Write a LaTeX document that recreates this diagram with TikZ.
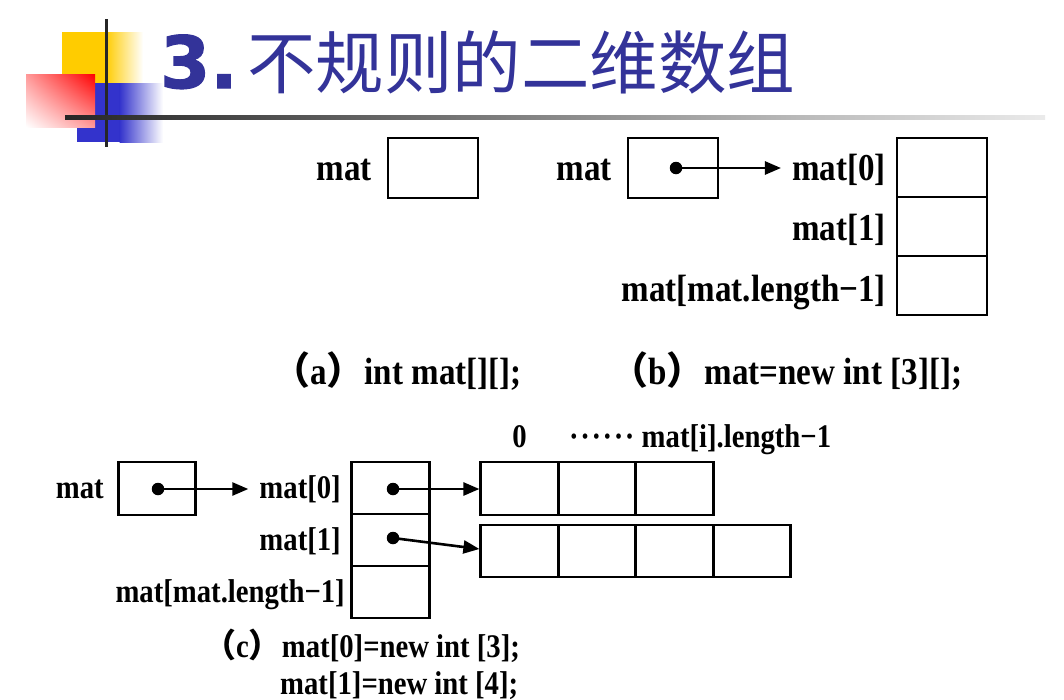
\documentclass[tikz,border=0pt]{standalone}
\usepackage{fontspec}
\setmainfont{Liberation Serif}
\newfontfamily\cjk{Noto Sans CJK SC}
\newfontfamily\lab{Liberation Serif}[FakeStretch=0.87]
\newfontfamily\titlenum{DejaVu Sans}[BoldFeatures={FakeBold=1.5}]
\usetikzlibrary{arrows.meta,shadings}
\definecolor{titleblue}{RGB}{51,51,153}
\definecolor{logoyellow}{RGB}{255,204,0}
\definecolor{logoblue}{RGB}{51,51,204}
\newcommand{\sixdots}{·\kern1.6pt·\kern1.6pt·\kern1.6pt·\kern1.6pt·\kern1.6pt·}
\begin{document}
\begin{tikzpicture}[x=1pt,y=-1pt,
  cell/.style={draw, line width=2.7pt, inner sep=0pt, minimum width=90pt, minimum height=59pt},
  cellc/.style={draw, line width=2.7pt, inner sep=0pt, minimum width=77.5pt, minimum height=52pt},
  lbl/.style={inner sep=0pt, font=\lab\bfseries\fontsize{38}{42}\selectfont},
  lblc/.style={inner sep=0pt, font=\lab\bfseries\fontsize{33}{37}\selectfont},
  dotn/.style={circle, fill, inner sep=0pt, minimum size=12.5pt},
  ptr/.style={line width=2.6pt, -{Triangle[length=16pt,width=13pt]}},
  ttl/.style={anchor=base west, inner sep=0pt, text=titleblue}
]
\useasboundingbox (0,0) rectangle (1064,699);
\fill[white] (0,0) rectangle (1064,699);

% logo
\fill[logoyellow] (62,32) rectangle (106,83);
\shade[left color=logoyellow, right color=white] (105.5,32) rectangle (143,83);
\fill[logoblue] (77,83) rectangle (120,142);
\shade[left color=logoblue, right color=white] (119.5,83) rectangle (163,142);
\shade[upper right=red, upper left=red!40, lower right=red!40, lower left=white] (26,74) rectangle (95,127);
\draw[line width=3pt, black!85] (106,19) -- (106,147);
\shade[left color=black!85, middle color=black!50, right color=black!8] (65,115) rectangle (1045,119);

% title
\node[ttl, font=\titlenum\bfseries\fontsize{72}{80}\selectfont] (tnum) at (160,88) {3.};
\node[ttl, font=\cjk\fontsize{68.5}{72}\selectfont] (ttext) at (247,88) {不规则的二维数组};

% (a)
\node[lbl, anchor=base east] (amat) at (372,180) {mat};
\node[cell, minimum height=60pt] (abox) at (433,168) {};

% (b)
\node[lbl, anchor=base east] (bmat) at (612,180) {mat};
\node[cell, minimum height=60pt] (bbox) at (673,168) {};
\node[dotn] (bdot) at (676,168) {};
\node[cell] (bc0) at (942,167.5) {};
\node[cell] (bc1) at (942,226.5) {};
\node[cell] (bc2) at (942,285.5) {};
\node[lbl, anchor=base east] (b0lbl) at (886,180) {mat[0]};
\node[lbl, anchor=base east] (b1lbl) at (886,240) {mat[1]};
\node[lbl, anchor=base east] (b2lbl) at (886,301) {mat[mat.length−1]};
\draw[ptr, shorten >=11pt] (bdot.center) -- (bdot.center -| b0lbl.west);

% captions a, b
\node[lbl, anchor=base west] (capa) at (272,384) {{\cjk （}a{\cjk ）}int mat[][];};
\node[lbl, anchor=base west] (capb) at (610,384) {{\cjk （}b{\cjk ）}mat=new int [3][];};

% (c)
\node[lblc] (h0) at (519.5,437) {0};
\node[lblc, anchor=base west] (hdots) at (569,447) {\sixdots\ mat[i].length−1};

\node[lblc, anchor=base east] (cmat) at (104,498) {mat};
\node[cellc, minimum height=53pt] (cbox) at (157,488.5) {};
\node[dotn] (cdot) at (158,489) {};
\node[lblc, anchor=base east] (c0lbl) at (341,498) {mat[0]};
\node[lblc, anchor=base east] (c1lbl) at (341,550) {mat[1]};
\node[lblc, anchor=base east] (c2lbl) at (345,602) {mat[mat.length−1]};
\node[cellc] (cc0) at (390.5,488) {};
\node[cellc] (cc1) at (390.5,540) {};
\node[cellc] (cc2) at (390.5,592) {};
\node[dotn] (r0dot) at (393,489) {};
\node[dotn] (r1dot) at (393,538) {};

\node[cellc, minimum height=53pt] (a0c0) at (519.5,488.5) {};
\node[cellc, minimum height=53pt] (a0c1) at (597,488.5) {};
\node[cellc, minimum height=53pt] (a0c2) at (674.5,488.5) {};
\node[cellc] (a1c0) at (519.5,551) {};
\node[cellc] (a1c1) at (597,551) {};
\node[cellc] (a1c2) at (674.5,551) {};
\node[cellc] (a1c3) at (752,551) {};

\draw[ptr, shorten >=11pt] (cdot.center) -- (cdot.center -| c0lbl.west);
\draw[ptr] (r0dot.center) -- (r0dot.center -| a0c0.west);
\draw[ptr] (r1dot.center) -- ([yshift=2pt]a1c0.west);

% caption c
\node[lblc, anchor=base west] (capc1) at (203,657) {{\cjk （}c{\cjk ）}mat[0]=new int [3];};
\node[lblc, anchor=base west] (capc2) at (280,694) {mat[1]=new int [4];};
\end{tikzpicture}
\end{document}
